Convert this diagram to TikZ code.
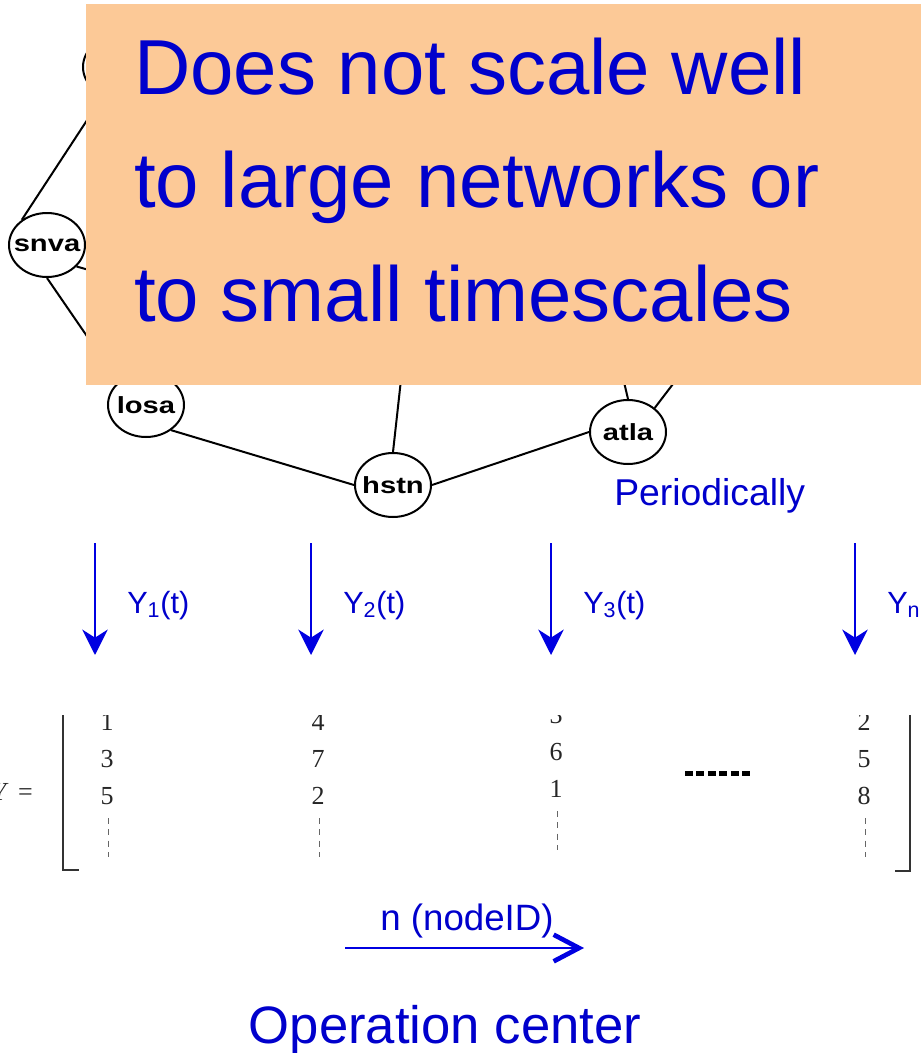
\documentclass[tikz,border=0pt]{standalone}
\usepackage{fontspec}
\setmainfont{Liberation Sans}
\newfontfamily\seriffont{Liberation Serif}
\newfontfamily\routerfont[FakeStretch=1.25]{Liberation Sans}
\usepackage{xcolor}
\usetikzlibrary{positioning, shapes.geometric, arrows.meta}

\definecolor{slideblue}{RGB}{0,0,204}
\definecolor{arrowblue}{RGB}{0,0,225}
\definecolor{notepeach}{RGB}{252,201,151}

% router name, kept from widening its ellipse
\newcommand{\rname}[1]{\makebox[0pt]{#1}}

\tikzset{
  router/.style={ellipse, draw, line width=1.5pt, minimum width=57pt, minimum height=48pt,
    inner sep=0pt, font=\routerfont\bfseries\fontsize{17.5}{19}\selectfont},
  link/.style={line width=1.5pt},
  claim/.style={text=slideblue, align=left, inner sep=0pt, font=\fontsize{58.5}{85.1}\selectfont},
  note/.style={text=slideblue, inner sep=0pt, font=\fontsize{28}{32}\selectfont},
  ylabel/.style={text=slideblue, inner sep=0pt, font=\fontsize{23}{26}\selectfont},
  yarrow/.style={draw=arrowblue, line width=2.2pt, -{Stealth[length=19pt, width=19pt, inset=6pt]}},
  cell/.style={inner sep=0pt, text=black!85, font=\seriffont\fontsize{19.5}{21}\selectfont},
  vdots/.style={draw=black!60, line width=0.75pt, dash pattern=on 4.5pt off 4pt},
  hdots/.style={line width=3.75pt, dash pattern=on 6pt off 2.6pt},
  bracket/.style={line width=0.9pt, black!80},
  idarrow/.style={draw=arrowblue, line width=1.5pt, line cap=butt,
    -{Straight Barb[length=19pt, width=20pt, line width=3.5pt]}},
  caption/.style={text=slideblue, inner sep=0pt, font=\fontsize{39.5}{44}\selectfont}
}

\begin{document}
\begin{tikzpicture}[x=0.75pt, y=-0.75pt]
  \useasboundingbox (0,0) rectangle (921,1053);

  % Routers of the backbone
  \node[router] (sttl) at (121,67) {};
  \node[router] (snva) at (47,245) {\rname{snva}};
  \node[router] (losa) at (146,405) {\rname{losa}};
  \node[router] (hstn) at (393,485) {\rname{hstn}};
  \node[router] (atla) at (628,432) {\rname{atla}};
  \coordinate (dnvr) at (320,335);
  \coordinate (kscy) at (412,280);
  \coordinate (ipls) at (593,250);
  \coordinate (wash) at (760,270);

  % Links
  \draw[link] (snva.135) -- (sttl.238);
  \draw[link] (snva.south) -- (losa.140);
  \draw[link] (snva.-36) -- (dnvr);
  \draw[link] (losa.-45) -- (hstn.west);
  \draw[link] (hstn.north) -- (kscy);
  \draw[link] (hstn.east) -- (atla.west);
  \draw[link] (atla.north) -- (ipls);
  \draw[link] (atla.42) -- (wash);

  % Callout over the graph
  \fill[notepeach] (86,4) rectangle (921,385);
  \node[claim, anchor=base west] (claim) at (134,321)
    {Does not scale well\\to large networks or\\to small timescales};

  \node[note, anchor=base west] (period) at (614,505) {Periodically};

  % Per-node measurements sent down
  \foreach \i/\x/\sub in {1/95/1, 2/311/2, 3/551/3, 4/855/n} {
    \coordinate (meas\i) at (\x,543);
    \coordinate (recv\i) at (\x,655);
    \draw[yarrow] (meas\i) -- (recv\i);
    \node[ylabel, anchor=base west] (y\i) at (\x+32,613) {Y\textsubscript{\sub}(t)};
  }

  % Measurement matrix
  \begin{scope}
    \clip (0,715) rectangle (921,1053);
    \node[cell, anchor=east] (lhs) at (33,792) {\textit{Y}\hspace{7pt}=};
    \foreach \c/\x/\dy/\a/\b/\d in {1/107/0/1/3/5, 2/318/0/4/7/2, 3/556/-7/3/6/1, 4/864/0/2/5/8} {
      \node[cell] (m\c-1) at (\x,722+\dy) {\a};
      \node[cell] (m\c-2) at (\x,759+\dy) {\b};
      \node[cell] (m\c-3) at (\x,796+\dy) {\d};
      \draw[vdots] (\x+1,818+\dy) -- (\x+1,857+\dy);
    }
    \draw[bracket] (63,700) -- (63,870) -- (79,870);
    \draw[bracket] (910,700) -- (910,871) -- (895,871);
  \end{scope}
  \draw[hdots] (685,773) -- (752,773);

  % Node index direction
  \coordinate (idfrom) at (345,948);
  \coordinate (idto) at (584,948);
  \draw[idarrow] (idfrom) -- (idto);
  \node[ylabel, font=\fontsize{27.5}{30}\selectfont, anchor=base] (nid) at (467,930) {n (nodeID)};

  \node[caption, anchor=base] (opc) at (445,1043) {Operation center};
\end{tikzpicture}
\end{document}
